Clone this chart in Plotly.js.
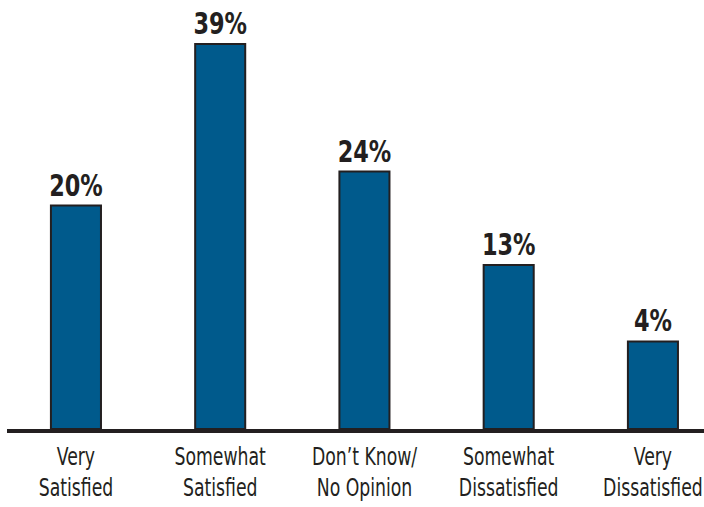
<!DOCTYPE html>
<html><head><meta charset="utf-8">
<script src="https://cdn.plot.ly/plotly-3.0.1.min.js"></script>
<style>html,body{margin:0;padding:0;background:#fff}#c{width:704px;height:507px}</style>
</head><body><div id="c"></div>
<script>
const categories = ["Very<br>Satisfied", "Somewhat<br>Satisfied", "Don’t Know/<br>No Opinion", "Somewhat<br>Dissatisfied", "Very<br>Dissatisfied"];
const values = [20, 39, 24, 13, 4];
const axisBase = -6.3; // visual baseline of the original chart sits below zero

const FONT = '"DejaVu Sans Condensed", "Liberation Sans Narrow", "Noto Sans", sans-serif';
const xIdx = categories.map((_, i) => i);

function condense(sel, s) {
  document.querySelectorAll(sel).forEach(t => {
    const b = t.getBBox();
    const cx = b.x + b.width / 2;
    const tr = t.getAttribute('transform') || '';
    t.setAttribute('transform', tr + ` translate(${cx},0) scale(${s},1) translate(${-cx},0)`);
  });
}

Plotly.newPlot('c', [{
  type: 'bar',
  x: xIdx,
  y: values.map(v => v - axisBase),
  base: axisBase,
  width: 0.347,
  marker: {color: '#005a8c', line: {color: '#231f20', width: 2}},
  text: values.map(v => v + '%'),
  texttemplate: '%{text}',
  textposition: 'outside',
  constraintext: 'none',
  cliponaxis: false,
  textfont: {family: FONT, size: 30, color: '#231f20', weight: 'bold'},
  hoverinfo: 'none'
}], {
  width: 704, height: 507,
  margin: {l: 7, r: 0, t: 0, b: 78},
  paper_bgcolor: '#fff', plot_bgcolor: '#fff',
  showlegend: false,
  bargap: 0,
  xaxis: {
    range: [-0.478, 4.354],
    tickmode: 'array', tickvals: xIdx, ticktext: categories,
    showline: true, linecolor: '#231f20', linewidth: 4,
    showgrid: false, zeroline: false, ticks: '',
    ticklabelstandoff: 3,
    ticklabeloverflow: 'allow',
    tickfont: {family: FONT, size: 24, color: '#231f20'},
    fixedrange: true
  },
  yaxis: {
    range: [axisBase, 44.19],
    visible: false, showgrid: false, zeroline: false, fixedrange: true
  }
}, {displayModeBar: false, staticPlot: true}).then(() => {
  condense('.xtick text', 0.8);
  condense('.bartext', 0.83);
});
</script>
</body></html>
